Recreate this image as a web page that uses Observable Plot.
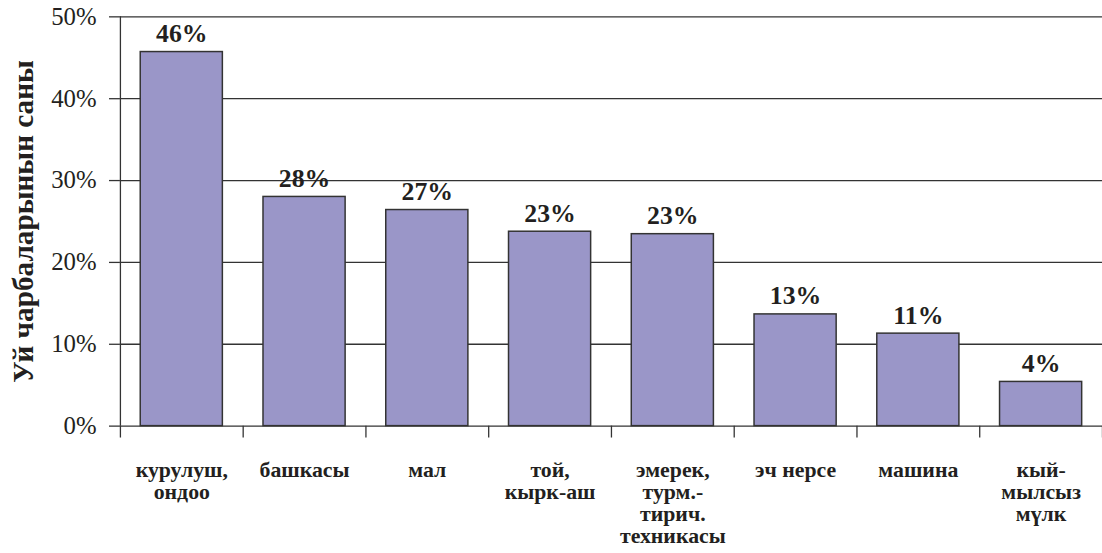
<!DOCTYPE html>
<html>
<head>
<meta charset="utf-8">
<script src="https://cdn.jsdelivr.net/npm/d3@7"></script>
<script src="https://cdn.jsdelivr.net/npm/@observablehq/plot@0.6"></script>
<style>
  html, body { margin: 0; padding: 0; background: #fff; overflow: hidden; }
  #chart { width: 1102px; height: 553px; overflow: hidden; }
</style>
</head>
<body>
<div id="chart"></div>
<script>
const categories = ["курулуш,\nондоо", "башкасы", "мал", "той,\nкырк-аш", "эмерек,\nтурм.-\nтирич.\nтехникасы", "эч нерсе", "машина", "кый-\nмылсыз\nмүлк"];
const values = [0.457, 0.280, 0.264, 0.2375, 0.2345, 0.1365, 0.113, 0.054];
const valueLabels = ["46%", "28%", "27%", "23%", "23%", "13%", "11%", "4%"];
const yTicks = [0, 0.1, 0.2, 0.3, 0.4, 0.5];
const yTickLabels = ["0%", "10%", "20%", "30%", "40%", "50%"];
const yTitle = "Уй чарбаларынын саны";

const data = categories.map((c, i) => ({i, c, v: values[i], label: valueLabels[i]}));
const boundaries = d3.range(categories.length + 1);
const ink = "#231f20";
const serif = "'Liberation Serif', 'DejaVu Serif', 'Noto Serif', 'Times New Roman', Times, serif";

const chart = Plot.plot({
  width: 1112,
  height: 553,
  marginLeft: 121,
  marginRight: 0,
  marginTop: 16.5,
  marginBottom: 123.5,
  x: {domain: [0, categories.length], axis: null},
  y: {domain: [0, 0.5], axis: null},
  style: {fontFamily: serif, color: ink, background: "#fff"},
  marks: [
    Plot.ruleY(yTicks, {stroke: "#333", strokeWidth: 1.3}),
    Plot.axisY({ticks: yTicks, tickFormat: (d, i) => yTickLabels[i], label: null, tickSize: 11, tickPadding: 13, fontSize: 25, fontFamily: serif, stroke: "#333", strokeWidth: 1.3}),
    Plot.rectY(data, {x1: "i", x2: d => d.i + 1, y: "v", insetLeft: 20.5, insetRight: 20.5, fill: "#9a96c8", stroke: "#333", strokeWidth: 1.5}),
    Plot.ruleX([0], {stroke: "#333", strokeWidth: 1.3}),
    Plot.axisX({ticks: boundaries, tickFormat: () => "", label: null, tickSize: 12, stroke: "#333", strokeWidth: 1.3}),
    Plot.text(data, {x: d => d.i + 0.5, y: "v", text: "label", dy: -10, lineAnchor: "bottom", fontFamily: serif, fontWeight: "bold", fontSize: 26, fill: ink}),
    Plot.text(data, {x: d => d.i + 0.5, text: "c", frameAnchor: "bottom", lineAnchor: "top", dy: 35, lineHeight: 1.02, fontFamily: serif, fontWeight: "bold", fontSize: 22, fill: ink}),
    Plot.text([yTitle], {frameAnchor: "left", rotate: -90, dx: -98, textAnchor: "middle", fontFamily: serif, fontWeight: "bold", fontSize: 29.5, fill: ink})
  ]
});
document.getElementById("chart").appendChild(chart);
</script>
</body>
</html>
